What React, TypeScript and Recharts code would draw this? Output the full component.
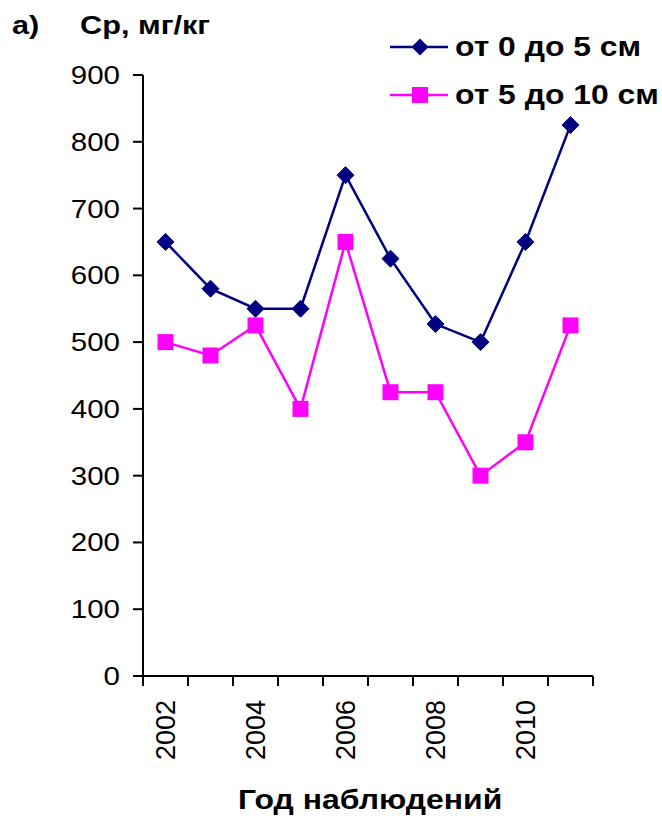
import React from 'react';
import { LineChart, Line, XAxis, YAxis } from 'recharts';

// Observation years (categories)
const years = ['2002', '2003', '2004', '2005', '2006', '2007', '2008', '2009', '2010', '2011'];

// Cp, mg/kg at depth 0-5 cm
const depth0to5 = [650, 580, 550, 550, 750, 625, 527, 500, 650, 825];

// Cp, mg/kg at depth 5-10 cm
const depth5to10 = [500, 480, 525, 400, 650, 425, 425, 300, 350, 525];

const yTicks = [0, 100, 200, 300, 400, 500, 600, 700, 800, 900];

// points sit in the middle of each year's slot, tick lines on the slot borders
const chartData = years.map((year, i) => ({
    year,
    x: i + 0.5,
    top: depth0to5[i],
    bottom: depth5to10[i],
}));

const xTicks: number[] = [];
for (let i = 0; i <= years.length * 2; i++) xTicks.push(i / 2);

const NAVY = '#000080';
const MAGENTA = '#FF00FF';
const FONT = '"Liberation Sans", Arial, sans-serif';
const STRETCH = 1.18; // the original text is a bit wider than plain Arial

const XTick = (props: any) => {
    const { x, y, payload } = props;
    const v = payload.value as number;
    if (Number.isInteger(v)) {
        return <line x1={x} y1={y} x2={x} y2={y + 10} stroke="#000" strokeWidth={2} />;
    }
    const idx = Math.floor(v);
    if (idx % 2 !== 0) return null;
    return (
        <text
            x={x}
            y={y + 24}
            transform={`rotate(-90, ${x}, ${y + 24})`}
            textAnchor="end"
            dy="0.36em"
            fontSize={27}
            fontFamily={FONT}
            fill="#000"
        >
            {years[idx]}
        </text>
    );
};

const YTick = (props: any) => {
    const { x, y, payload } = props;
    return (
        <text
            transform={`translate(${x}, ${y}) scale(${STRETCH}, 1)`}
            textAnchor="end"
            dy="0.36em"
            fontSize={25}
            fontFamily={FONT}
            fill="#000"
        >
            {payload.value}
        </text>
    );
};

const Diamond = (props: any) => {
    const { cx, cy, index } = props;
    if (cx == null || cy == null) return <g key={`d-${index}`} />;
    const r = 8.5;
    return (
        <polygon
            key={`d-${index}`}
            points={`${cx},${cy - r} ${cx + r},${cy} ${cx},${cy + r} ${cx - r},${cy}`}
            fill={NAVY}
            stroke={NAVY}
        />
    );
};

const Square = (props: any) => {
    const { cx, cy, index } = props;
    if (cx == null || cy == null) return <g key={`s-${index}`} />;
    const s = 8;
    return <rect key={`s-${index}`} x={cx - s} y={cy - s} width={s * 2} height={s * 2} fill={MAGENTA} />;
};

const stretched = (size: number): React.CSSProperties => ({
    fontFamily: FONT,
    fontWeight: 'bold',
    fontSize: size,
    color: '#000',
    transform: `scaleX(${STRETCH})`,
    transformOrigin: 'left center',
    whiteSpace: 'nowrap',
    display: 'inline-block',
});

const LegendBox = () => (
    <div style={{ position: 'absolute', left: 388, top: 23 }}>
        <div style={{ display: 'flex', alignItems: 'center', height: 48 }}>
            <svg width={64} height={20} style={{ marginRight: 3 }}>
                <line x1={2} y1={10} x2={60} y2={10} stroke={NAVY} strokeWidth={2.5} />
                <polygon points="32,1.5 40.5,10 32,18.5 23.5,10" fill={NAVY} />
            </svg>
            <span style={stretched(27)}>от 0 до 5 см</span>
        </div>
        <div style={{ display: 'flex', alignItems: 'center', height: 48 }}>
            <svg width={64} height={20} style={{ marginRight: 3 }}>
                <line x1={2} y1={10} x2={60} y2={10} stroke={MAGENTA} strokeWidth={2.5} />
                <rect x={24} y={2} width={16} height={16} fill={MAGENTA} />
            </svg>
            <span style={stretched(27)}>от 5 до 10 см</span>
        </div>
    </div>
);

export default function App() {
    return (
        <div style={{ position: 'absolute', left: 0, top: 0, width: 662, height: 825, background: '#fff' }}>
            <LineChart width={662} height={825} data={chartData} margin={{ top: 75, right: 69, left: 0, bottom: 0 }}>
                <XAxis
                    type="number"
                    dataKey="x"
                    domain={[0, 10]}
                    ticks={xTicks}
                    interval={0}
                    tickLine={false}
                    tickSize={0}
                    tickMargin={0}
                    tick={<XTick />}
                    height={149}
                    axisLine={{ stroke: '#000', strokeWidth: 2 }}
                />
                <YAxis
                    domain={[0, 900]}
                    ticks={yTicks}
                    interval={0}
                    width={143}
                    tickSize={10}
                    tickMargin={13}
                    tick={<YTick />}
                    tickLine={{ stroke: '#000', strokeWidth: 2 }}
                    axisLine={{ stroke: '#000', strokeWidth: 2 }}
                />
                <Line
                    type="linear"
                    dataKey="top"
                    stroke={NAVY}
                    strokeWidth={2.5}
                    dot={<Diamond />}
                    isAnimationActive={false}
                />
                <Line
                    type="linear"
                    dataKey="bottom"
                    stroke={MAGENTA}
                    strokeWidth={2.5}
                    dot={<Square />}
                    isAnimationActive={false}
                />
            </LineChart>
            <div style={{ position: 'absolute', left: 12, top: 10 }}>
                <span style={stretched(26)}>а)</span>
            </div>
            <div style={{ position: 'absolute', left: 80, top: 10 }}>
                <span style={stretched(26)}>Ср, мг/кг</span>
            </div>
            <div style={{ position: 'absolute', left: 238, top: 784 }}>
                <span style={{ ...stretched(28), transform: 'scaleX(1.14)' }}>Год наблюдений</span>
            </div>
            <LegendBox />
        </div>
    );
}
